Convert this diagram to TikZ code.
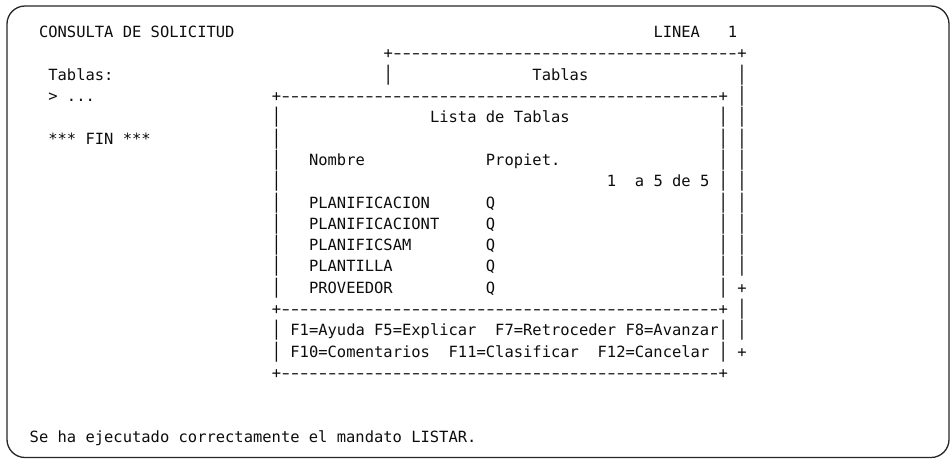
\documentclass[tikz,border=0pt]{standalone}
\usepackage{fontspec}
\setmonofont{DejaVu Sans Mono}
\newcommand{\scrbar}{\scalebox{1}[1.3]{|}}
\newcommand{\scrdash}{\makebox[9.31pt]{\scalebox{1.5}[1]{-}}}
\begin{document}
\begin{tikzpicture}[x=1pt, y=-1pt,
    scr/.style={font=\ttfamily\fontsize{15.46}{18}\selectfont, text=black!95,
      anchor=base west, inner sep=0pt, xshift=-4.655pt, yshift=-5.6pt}]
  \useasboundingbox (0,0) rectangle (951,459);

  % Screen frame
  \draw[line width=1.3pt, black!85, rounded corners=18pt] (7,6) rectangle (949,457.5);

  % Screen text, one cell per character
  \begin{scope}[shift={(43.5,32)}, x=9.31pt, y=-21.3pt]
    % Header
    \node[scr] (title) at (0,0) {CONSULTA DE SOLICITUD};
    \node[scr] (linea) at (66,0) {LINEA};
    \node[scr] (nlinea) at (74,0) {1};

    % Left list
    \node[scr] (tablas) at (1,2) {Tablas:};
    \node[scr] (prompt) at (1,3) {> ...};
    \node[scr] (fin) at (1,5) {*** FIN ***};

    % Outer window
    \node[scr] (otop) at (37,1) {+\foreach \i in {1,...,37}{\scrdash}+};
    \node[scr] (oleft) at (37,2) {\scrbar};
    \node[scr] (ohead) at (53,2) {Tablas};
    \foreach \r in {2,...,11,13,14}
      \node[scr] (or\r) at (75,\r) {\scrbar};
    \node[scr] (or12) at (75,12) {+};
    \node[scr] (or15) at (75,15) {+};

    % Inner window
    \node[scr] (itop) at (25,3) {+\foreach \i in {1,...,47}{\scrdash}+};
    \foreach \r in {4,...,12,14,15} {
      \node[scr] (il\r) at (25,\r) {\scrbar};
      \node[scr] (ir\r) at (73,\r) {\scrbar};
    }
    \node[scr] (ihead) at (42,4) {Lista de Tablas};
    \node[scr] (colname) at (29,6) {Nombre};
    \node[scr] (colown) at (48,6) {Propiet.};
    \node[scr] (first) at (61,7) {1};
    \node[scr] (count) at (64,7) {a 5 de 5};
    \foreach \n [count=\r from 8] in {PLANIFICACION,PLANIFICACIONT,PLANIFICSAM,PLANTILLA,PROVEEDOR} {
      \node[scr] (name\r) at (29,\r) {\n};
      \node[scr] (own\r) at (48,\r) {Q};
    }
    \node[scr] (imid) at (25,13) {+\foreach \i in {1,...,47}{\scrdash}+};

    % Function keys
    \node[scr] (keysa) at (27,14) {F1=Ayuda F5=Explicar};
    \node[scr] (keysb) at (49,14) {F7=Retroceder F8=Avanzar};
    \node[scr] (keysc) at (27,15) {F10=Comentarios};
    \node[scr] (keysd) at (44,15) {F11=Clasificar};
    \node[scr] (keyse) at (60,15) {F12=Cancelar};
    \node[scr] (ibot) at (25,16) {+\foreach \i in {1,...,47}{\scrdash}+};

    % Message line
    \node[scr] (msg) at (-1,19) {Se ha ejecutado correctamente el mandato LISTAR.};
  \end{scope}
\end{tikzpicture}
\end{document}
